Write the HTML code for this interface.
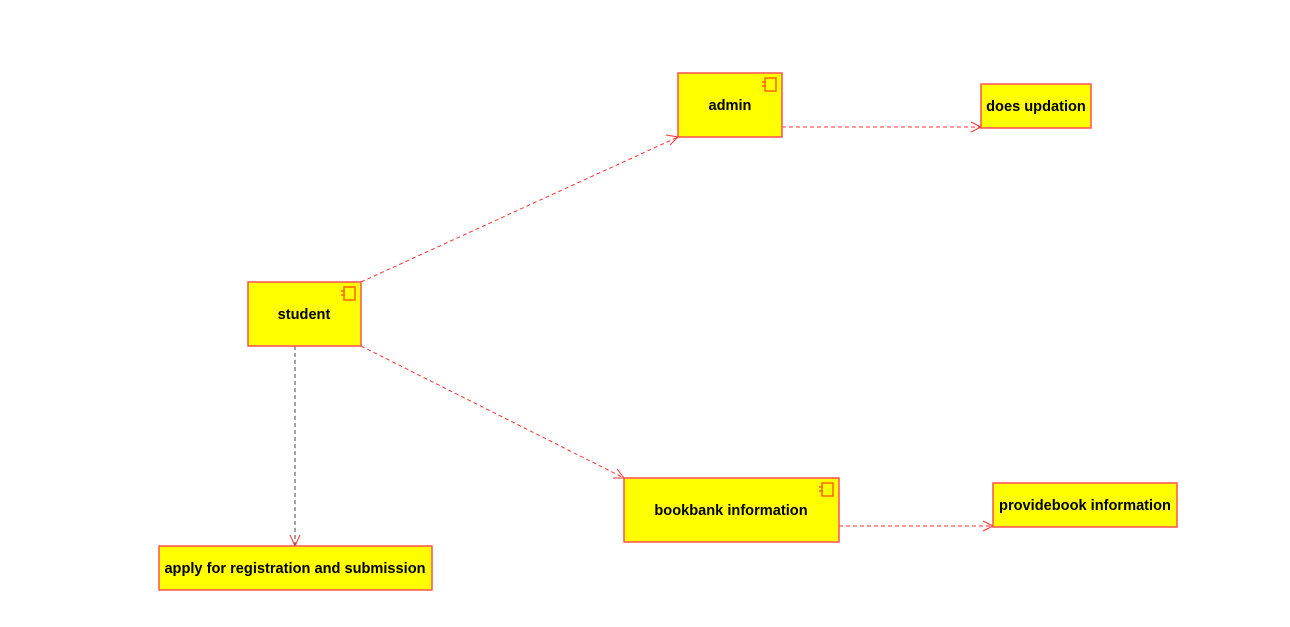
<!DOCTYPE html>
<html><head><meta charset="utf-8"><style>
html,body{margin:0;padding:0;background:#fff;width:1290px;height:627px;overflow:hidden}
text{font-family:"Liberation Sans",sans-serif;font-weight:bold;font-size:14.6px;fill:#000}
</style></head><body>
<svg width="1290" height="627" xmlns="http://www.w3.org/2000/svg">
<g fill="none" stroke-width="1">
<line x1="361" y1="282" x2="678" y2="137" stroke="#ff3333" stroke-dasharray="4,3"/>
<polyline points="666,135 678,137 670,145" stroke="#ff3333"/>
<line x1="782" y1="127" x2="981" y2="127" stroke="#ff3333" stroke-dasharray="4,3"/>
<polyline points="971,122 981,127 971,132" stroke="#ff3333"/>
<line x1="361" y1="346" x2="624" y2="478" stroke="#ff3333" stroke-dasharray="4,3"/>
<polyline points="613,478 624,478 617,469" stroke="#ff3333"/>
<line x1="839" y1="526" x2="993" y2="526" stroke="#ff3333" stroke-dasharray="4,3"/>
<polyline points="983,521 993,526 983,531" stroke="#ff3333"/>
<line x1="295" y1="346" x2="295" y2="546" stroke="#444" stroke-dasharray="4,3"/>
<polyline points="290,535 295,546 300,535" stroke="#ff3333"/>
</g>
<g fill="#ffff00" stroke="#ff5050" stroke-width="1.5">
<rect x="678" y="73" width="104" height="64"/>
<rect x="981" y="84" width="110" height="44"/>
<rect x="248" y="282" width="113" height="64"/>
<rect x="624" y="478" width="215" height="64"/>
<rect x="993" y="483" width="184" height="44"/>
<rect x="159" y="546" width="273" height="44"/>
</g>
<g fill="none" stroke="#ff6600" stroke-width="1.5">
<rect x="765" y="78" width="11" height="13"/><line x1="762" y1="82" x2="766" y2="82"/><line x1="762" y1="86" x2="766" y2="86"/>
<rect x="344" y="287" width="11" height="13"/><line x1="341" y1="291" x2="345" y2="291"/><line x1="341" y1="295" x2="345" y2="295"/>
<rect x="822" y="483" width="11" height="13"/><line x1="819" y1="487" x2="823" y2="487"/><line x1="819" y1="491" x2="823" y2="491"/>
</g>
<text x="730" y="110" text-anchor="middle">admin</text>
<text x="1036" y="111" text-anchor="middle">does updation</text>
<text x="304" y="319" text-anchor="middle">student</text>
<text x="731" y="515" text-anchor="middle">bookbank information</text>
<text x="1085" y="510" text-anchor="middle">providebook information</text>
<text x="295" y="573" text-anchor="middle">apply for registration and submission</text>
</svg>
</body></html>
